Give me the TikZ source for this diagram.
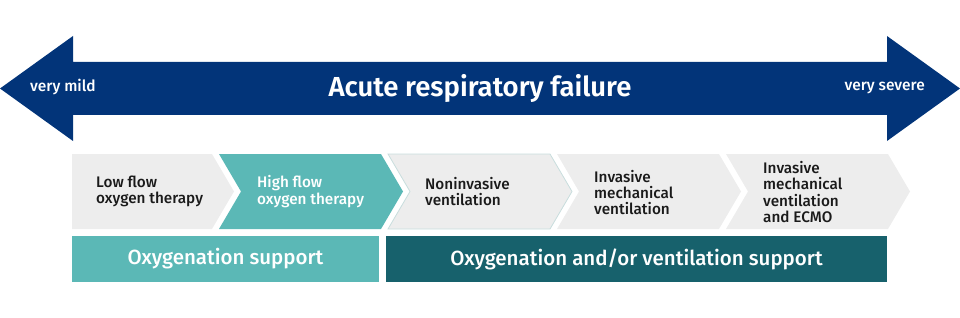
\documentclass[tikz,border=0pt]{standalone}
\usepackage{fontspec}
\setmainfont{Fira Sans}[UprightFont=* Medium, BoldFont=* SemiBold]
\definecolor{arrowblue}{HTML}{023479}
\definecolor{tealA}{HTML}{5BB8B6}
\definecolor{tealD}{HTML}{17616C}
\definecolor{chevgray}{HTML}{EDEDED}
\definecolor{chevline}{HTML}{C8DDDD}
\definecolor{txtdark}{HTML}{1A1A1A}
\begin{document}
\begin{tikzpicture}[x=1pt,y=-1pt,
  chevtext/.style={anchor=west,align=left,font=\fontsize{15.3}{16.2}\selectfont,text=txtdark,inner sep=0pt},
  endlabel/.style={font=\fontsize{15.5}{17}\selectfont,text=white,inner sep=0pt},
  bartext/.style={font=\fontsize{20.5}{22}\selectfont,text=white,inner sep=0pt}]
\useasboundingbox (0,0) rectangle (960,318);
% big double arrow
\fill[arrowblue] (0,88.5) -- (73,36) -- (73,62) -- (887,62) -- (887,36) -- (960,88.5)
  -- (887,141) -- (887,115) -- (73,115) -- (73,141) -- cycle;
\node[font=\bfseries\fontsize{27.5}{30}\selectfont,text=white,inner sep=0pt] (title) at (480,88.5) {Acute respiratory failure};
\node[endlabel,anchor=west] (mild) at (30,87.5) {very mild};
\node[endlabel,anchor=east] (severe) at (925,87.5) {very severe};
% chevrons
\fill[chevgray] (72,154) -- (212,154) -- (234,191.5) -- (212,229) -- (72,229) -- cycle;
\fill[tealA] (219,154) -- (381,154) -- (403,191.5) -- (381,229) -- (219,229) -- (241,191.5) -- cycle;
\filldraw[fill=chevgray,draw=chevline,line width=0.8pt] (388,154) -- (550,154) -- (572,191.5) -- (550,229) -- (388,229) -- (410,191.5) -- cycle;
\fill[chevgray] (557,154) -- (719,154) -- (741,191.5) -- (719,229) -- (557,229) -- (579,191.5) -- cycle;
\fill[chevgray] (726,154) -- (888,154) -- (910,191.5) -- (888,229) -- (726,229) -- (748,191.5) -- cycle;
\node[chevtext] (c1) at (96,191.5) {Low flow\\oxygen therapy};
\node[chevtext,text=white] (c2) at (257,191.5) {High flow\\oxygen therapy};
\node[chevtext] (c3) at (425,191.5) {Noninvasive\\ventilation};
\node[chevtext] (c4) at (594,192.5) {Invasive\\mechanical\\ventilation};
\node[chevtext] (c5) at (763,192) {Invasive\\mechanical\\ventilation\\and ECMO};
% bottom bars
\fill[tealA] (72,236) rectangle (379,282);
\fill[tealD] (386,236) rectangle (887,282);
\node[bartext] (b1) at (225.5,259) {Oxygenation support};
\node[bartext] (b2) at (636.5,259) {Oxygenation and/or ventilation support};
\end{tikzpicture}
\end{document}
